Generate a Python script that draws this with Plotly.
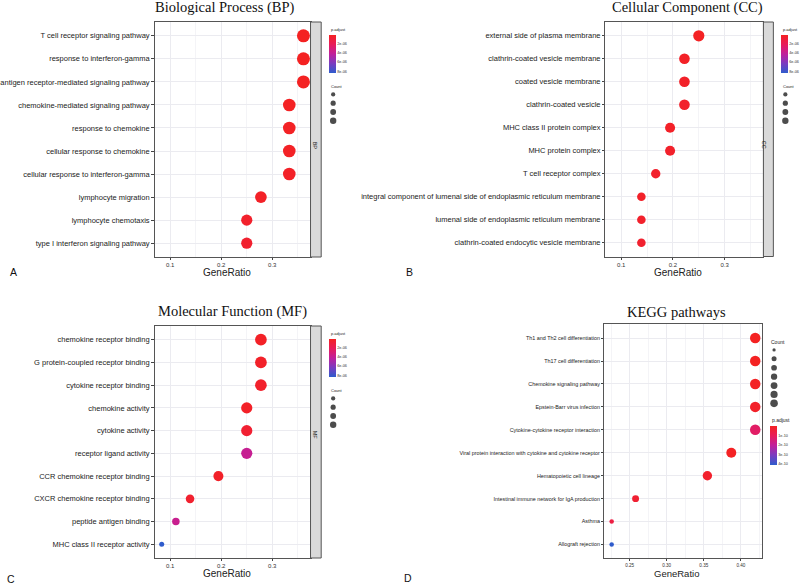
import numpy as np
import plotly.graph_objects as go

# ---------------- data ----------------
bp_terms = ["T cell receptor signaling pathway", "response to interferon-gamma",
            "antigen receptor-mediated signaling pathway", "chemokine-mediated signaling pathway",
            "response to chemokine", "cellular response to chemokine",
            "cellular response to interferon-gamma", "lymphocyte migration",
            "lymphocyte chemotaxis", "type I interferon signaling pathway"]
bp_count = [13, 13, 13, 12, 12, 12, 12, 10, 9, 9]
bp_padj = [2.0e-8, 3.0e-8, 5.0e-8, 1.0e-7, 1.5e-7, 1.6e-7, 2.5e-7, 2.2e-7, 4.0e-7, 5.0e-7]

cc_terms = ["external side of plasma membrane", "clathrin-coated vesicle membrane",
            "coated vesicle membrane", "clathrin-coated vesicle", "MHC class II protein complex",
            "MHC protein complex", "T cell receptor complex",
            "integral component of lumenal side of endoplasmic reticulum membrane",
            "lumenal side of endoplasmic reticulum membrane",
            "clathrin-coated endocytic vesicle membrane"]
cc_count = [9, 8, 8, 8, 7, 7, 6, 5, 5, 5]
cc_padj = [1.0e-7, 2.0e-7, 3.0e-7, 4.0e-7, 2.5e-7, 3.5e-7, 4.5e-7, 3.0e-7, 4.0e-7, 5.0e-7]

mf_terms = ["chemokine receptor binding", "G protein-coupled receptor binding",
            "cytokine receptor binding", "chemokine activity", "cytokine activity",
            "receptor ligand activity", "CCR chemokine receptor binding",
            "CXCR chemokine receptor binding", "peptide antigen binding",
            "MHC class II receptor activity"]
mf_count = [10, 10, 10, 9, 9, 9, 7, 5, 4, 3]
mf_padj = [2.0e-7, 3.0e-7, 4.0e-7, 2.5e-7, 6.0e-7, 3.9e-6, 3.0e-7, 5.0e-7, 3.8e-6, 8.4e-6]

kegg_terms = ["Th1 and Th2 cell differentiation", "Th17 cell differentiation",
              "Chemokine signaling pathway", "Epstein-Barr virus infection",
              "Cytokine-cytokine receptor interaction",
              "Viral protein interaction with cytokine and cytokine receptor",
              "Hematopoietic cell lineage", "Intestinal immune network for IgA production",
              "Asthma", "Allograft rejection"]
kegg_count = [13, 13, 13, 13, 13, 12, 11, 8, 7, 7]
kegg_padj = [1e-13, 2e-13, 5e-12, 1.5e-11, 1.2e-10, 3e-12, 2e-11, 3e-11, 6e-11, 4.1e-10]

go_total = 36
kegg_total = 31

go_size_breaks = [5.0, 7.5, 10.0, 12.5]
go_size_labels = ["5.0", "7.5", "10.0", "12.5"]
kegg_size_breaks = [7, 8, 9, 10, 11, 12, 13]
kegg_size_labels = ["7", "8", "9", "10", "11", "12", "13"]
go_p_breaks = [2e-06, 4e-06, 6e-06, 8e-06]
go_p_labels = ["2e-06", "4e-06", "6e-06", "8e-06"]
kegg_p_breaks = [1e-10, 2e-10, 3e-10, 4e-10]
kegg_p_labels = ["1e-10", "2e-10", "3e-10", "4e-10"]

panel_titles = ["Biological Process (BP)", "Cellular Component (CC)",
                "Molecular Function (MF)", "KEGG pathways"]
strip_labels = ["BP", "CC", "MF", None]
panel_letters = ["A", "B", "C", "D"]

# ---------------- helpers ----------------
W, H = 800, 585
def px(x): return x / W
def py(y): return 1 - y / H

def area_size(c, cmin, cmax, dmin, dmax):
    c = np.asarray(c, float)
    return dmin + (dmax - dmin) * np.sqrt((c - cmin) / (cmax - cmin))

FONT = "Liberation Sans, Arial, sans-serif"
SERIF = "Liberation Serif, Times New Roman, serif"
scale = [[0.0, "#2f5ccc"], [0.25, "#7a3cc0"], [0.5, "#c0209c"], [0.75, "#e81c5a"], [1.0, "#f42222"]]

go_all_count = bp_count + cc_count + mf_count
go_all_ratio = np.array(go_all_count) / go_total
go_all_p = bp_padj + cc_padj + mf_padj
go_lo, go_hi = go_all_ratio.min(), go_all_ratio.max()
go_pad = 0.05 * (go_hi - go_lo)
go_xrange = [go_lo - go_pad, go_hi + go_pad]
kegg_ratio = np.array(kegg_count) / kegg_total
k_pad = 0.05 * (kegg_ratio.max() - kegg_ratio.min())
kegg_xrange = [kegg_ratio.min() - k_pad, kegg_ratio.max() + k_pad]

go_cmin, go_cmax = min(go_all_count), max(go_all_count)

panels = [
    dict(terms=bp_terms, count=bp_count, p=bp_padj, total=go_total, kind="go",
         x0=153, x1=309.3, y0=22, y1=257, strip=320, tx=223.3, ty=8),
    dict(terms=cc_terms, count=cc_count, p=cc_padj, total=go_total, kind="go",
         x0=605, x1=763.3, y0=22, y1=256.5, strip=773.3, tx=687.5, ty=8),
    dict(terms=mf_terms, count=mf_count, p=mf_padj, total=go_total, kind="go",
         x0=153, x1=309.3, y0=326, y1=558, strip=320, tx=230.8, ty=311),
    dict(terms=kegg_terms, count=kegg_count, p=kegg_padj, total=kegg_total, kind="kegg",
         x0=604, x1=762.3, y0=324.3, y1=558.3, strip=None, tx=675.8, ty=312),
]

fig = go.Figure()
layout = dict(width=W, height=H, margin=dict(l=0, r=0, t=0, b=0),
              paper_bgcolor="white", plot_bgcolor="white", showlegend=False,
              font=dict(family=FONT, color="#222"))
shapes, annotations = [], []

for i, pnl in enumerate(panels, start=1):
    ratio = np.array(pnl["count"]) / pnl["total"]
    if pnl["kind"] == "go":
        sizes = area_size(pnl["count"], go_cmin, go_cmax, 5, 13)
        pmax = max(go_all_p); pmin = min(go_all_p)
        xr = go_xrange; dtick = 0.1; mdtick = 0.05; fmt = ".1f"
        ytf, xtf = 7.5, 6
        pbreaks, plabels = go_p_breaks, go_p_labels
    else:
        sizes = area_size(pnl["count"], min(kegg_count), max(kegg_count), 4.5, 10.5)
        pmax = max(kegg_padj); pmin = 0.0
        xr = kegg_xrange; dtick = 0.05; mdtick = 0.025; fmt = ".2f"
        ytf, xtf = 5.4, 4.6
        pbreaks, plabels = kegg_p_breaks, kegg_p_labels
    ca = "coloraxis" if i == 1 else f"coloraxis{i}"
    fig.add_trace(go.Scatter(
        x=ratio, y=pnl["terms"], mode="markers",
        marker=dict(size=sizes, color=-np.array(pnl["p"]), coloraxis=ca, line=dict(width=0), opacity=1),
        xaxis=f"x{i}", yaxis=f"y{i}", hoverinfo="x+y"))
    n = len(pnl["terms"])
    layout[f"xaxis{i}"] = dict(
        domain=[px(pnl["x0"]), px(pnl["x1"])], anchor=f"y{i}", range=xr,
        dtick=dtick, tick0=0, tickformat=fmt, showgrid=True, gridcolor="#ebebf0", gridwidth=0.8,
        minor=dict(dtick=mdtick, tick0=0, showgrid=True, gridcolor="#f4f4f7", gridwidth=0.6),
        showline=True, mirror=True, linecolor="#555", linewidth=1, zeroline=False,
        ticks="outside", ticklen=2, tickwidth=0.8, tickcolor="#444",
        tickfont=dict(size=xtf, color="#333"), fixedrange=True)
    layout[f"yaxis{i}"] = dict(
        domain=[py(pnl["y1"]), py(pnl["y0"])], anchor=f"x{i}", type="category",
        categoryorder="array", categoryarray=pnl["terms"], range=[n - 0.4, -0.6],
        showgrid=True, gridcolor="#ebebf0", gridwidth=0.8,
        showline=True, mirror=True, linecolor="#555", linewidth=1, zeroline=False,
        ticks="outside", ticklen=2.5, tickwidth=0.8, tickcolor="#444",
        tickfont=dict(size=ytf, color="#222"), fixedrange=True)

    # color bar
    if pnl["kind"] == "go":
        cb_x, cb_y0, cb_len, cb_th, tf = pnl["strip"] + 8, pnl["y0"] + 13, 38, 7, 3.8
    else:
        cb_x, cb_y0, cb_len, cb_th, tf = 770, 426, 39, 6.7, 3.8
    layout[ca] = dict(
        colorscale=scale, cmin=-pmax, cmax=-pmin,
        colorbar=dict(x=px(cb_x), xanchor="left", y=py(cb_y0), yanchor="top",
                      len=cb_len, lenmode="pixels", thickness=cb_th, thicknessmode="pixels",
                      xpad=0, ypad=0, outlinewidth=0, ticks="",
                      tickvals=[-b for b in pbreaks], ticktext=plabels,
                      tickfont=dict(size=tf, color="#333"), title=dict(text="")))
    annotations.append(dict(text="p.adjust", x=px(cb_x), y=py(cb_y0 - 1), xref="paper", yref="paper",
                            xanchor="left", yanchor="bottom", showarrow=False,
                            font=dict(size=4 if pnl["kind"] == "go" else 5, color="#222")))

    # strip
    if pnl["strip"] is not None:
        shapes.append(dict(type="rect", xref="paper", yref="paper",
                           x0=px(pnl["x1"]), x1=px(pnl["strip"]), y0=py(pnl["y1"]), y1=py(pnl["y0"]),
                           fillcolor="#d9d9d9", line=dict(color="#555", width=1), layer="above"))
        annotations.append(dict(text=strip_labels[i - 1], x=px((pnl["x1"] + pnl["strip"]) / 2),
                                y=py((pnl["y0"] + pnl["y1"]) / 2), xref="paper", yref="paper",
                                textangle=90, showarrow=False, font=dict(size=5.5, color="#222")))

    # panel title, axis title
    cx = (pnl["x0"] + pnl["x1"]) / 2
    annotations.append(dict(text=panel_titles[i - 1], x=px(pnl["tx"]), y=py(pnl["ty"]),
                            xref="paper", yref="paper",
                            xanchor="center", yanchor="middle", showarrow=False,
                            font=dict(family=SERIF, size=14.5, color="#111")))
    annotations.append(dict(text="GeneRatio", x=px(cx - 6 if pnl["kind"] == "go" else cx - 7),
                            y=py(pnl["y1"] + 15.5),
                            xref="paper", yref="paper", xanchor="center", yanchor="middle",
                            showarrow=False, font=dict(size=10 if pnl["kind"] == "go" else 9.5, color="#222")))

letter_pos = [(6, 272), (403, 272), (3, 579), (401.5, 578)]
for j, (lx, ly) in enumerate(letter_pos):
    annotations.append(dict(text=panel_letters[j], x=px(lx), y=py(ly), xref="paper", yref="paper",
                            xanchor="left", yanchor="middle", showarrow=False,
                            font=dict(size=10.5, color="#111")))

# size legends on hidden axes
size_legends = []
for i, pnl in enumerate(panels[:3], start=1):
    size_legends.append(dict(breaks=go_size_breaks, labels=go_size_labels,
                             sizes=0.5 * area_size(go_size_breaks, go_cmin, go_cmax, 5, 13),
                             cx=pnl["strip"] + 12, y0=pnl["y0"] + 68, step=8.8,
                             title_y=pnl["y0"] + 64, title_x=pnl["strip"] + 8, tfont=4, lfont=3.8))
size_legends.append(dict(breaks=kegg_size_breaks, labels=kegg_size_labels,
                         sizes=0.72 * area_size(kegg_size_breaks, min(kegg_count), max(kegg_count), 4.5, 10.5),
                         cx=774, y0=345.5, step=8.9, title_y=341.7, title_x=769.3, tfont=5, lfont=4.2))

for k, lg in enumerate(size_legends, start=5):
    m = len(lg["breaks"])
    fig.add_trace(go.Scatter(
        x=[0] * m, y=lg["labels"], mode="markers",
        marker=dict(size=lg["sizes"], color="black", line=dict(width=0)),
        xaxis=f"x{k}", yaxis=f"y{k}", hoverinfo="skip"))
    layout[f"xaxis{k}"] = dict(domain=[px(lg["cx"] - 10), px(lg["cx"] + 10)], range=[-1, 1],
                               visible=False, anchor=f"y{k}", fixedrange=True)
    layout[f"yaxis{k}"] = dict(domain=[py(lg["y0"] + m * lg["step"]), py(lg["y0"])],
                               type="category", categoryorder="array", categoryarray=lg["labels"],
                               range=[m - 0.5, -0.5], visible=False, anchor=f"x{k}", fixedrange=True)
    for lab in lg["labels"]:
        annotations.append(dict(text=lab, x=0.55, y=lab, xref=f"x{k}", yref=f"y{k}",
                                xanchor="left", yanchor="middle", showarrow=False,
                                font=dict(size=lg["lfont"], color="#333")))
    annotations.append(dict(text="Count", x=px(lg["title_x"]), y=py(lg["title_y"]), xref="paper", yref="paper",
                            xanchor="left", yanchor="middle", showarrow=False,
                            font=dict(size=lg["tfont"], color="#222")))

layout["shapes"] = shapes
layout["annotations"] = annotations
fig.update_layout(**layout)
fig.write_html("out.html", config={"displayModeBar": False},
               post_script="document.body.style.margin='0';document.body.style.overflow='hidden';")
